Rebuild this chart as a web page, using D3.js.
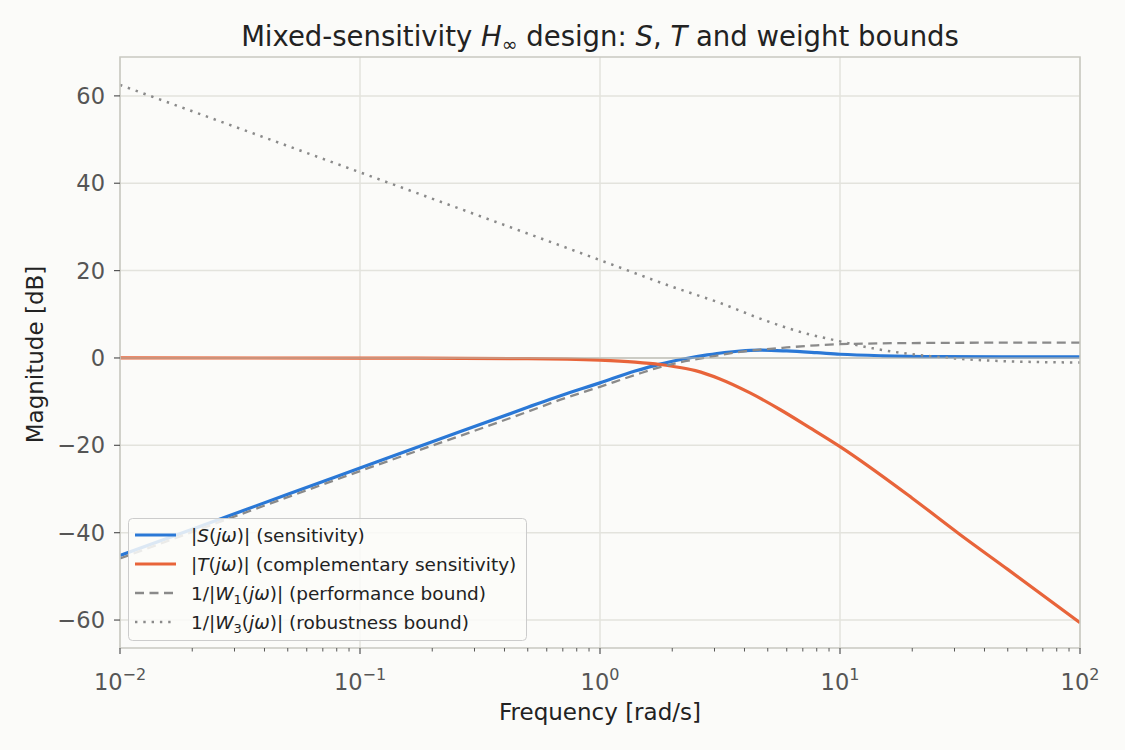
<!DOCTYPE html>
<html>
<head>
<meta charset="utf-8">
<script src="https://cdn.jsdelivr.net/npm/d3@7"></script>
<style>
  html, body { margin: 0; padding: 0; background: #fbfbf9; }
  svg { display: block; font-family: "DejaVu Sans", sans-serif; }
</style>
</head>
<body>
<svg id="chart" width="1125" height="750"></svg>
<script>
// ---- data ----
const sFreq  = [0.01, 0.02, 0.05, 0.1, 0.2, 0.5, 0.68, 1, 1.4, 1.78, 2.2, 2.8, 3.3, 3.83, 4.64, 6, 8, 10, 15, 26, 50, 100];
const sMag   = [-45.2, -39.2, -31.2, -25.2, -19.2, -11.3, -8.7, -5.7, -3.0, -1.4, -0.3, 0.7, 1.25, 1.6, 1.8, 1.6, 1.2, 0.85, 0.5, 0.3, 0.25, 0.25];
const tFreq  = [0.01, 0.1, 0.5, 1, 1.4, 1.78, 2, 2.5, 3.16, 4.22, 5.62, 7.5, 10, 20, 31.6, 50, 100];
const tMag   = [0.0, -0.02, -0.15, -0.5, -0.95, -1.5, -1.9, -2.9, -4.8, -8.0, -11.8, -16.0, -20.3, -32.1, -40.4, -48.4, -60.6];
const w1Freq = [0.01, 0.1, 0.5, 0.68, 1, 1.4, 1.78, 2, 2.87, 3.83, 4.64, 6, 8, 10, 15, 26, 50, 100];
const w1Mag  = [-45.9, -25.9, -12.3, -9.6, -6.6, -3.9, -2.1, -1.4, 0.25, 1.4, 1.9, 2.4, 2.9, 3.15, 3.35, 3.45, 3.5, 3.5];
const w3Freq = [0.01, 0.1, 1, 2, 3.16, 4.87, 7, 10, 13.7, 19, 24, 30, 46, 70, 100];
const w3Mag  = [62.5, 42.5, 22.4, 16.3, 12.6, 8.6, 5.8, 3.8, 2.2, 1.0, 0.4, -0.1, -0.7, -0.95, -1.05];
const yTicks = [-60, -40, -20, 0, 20, 40, 60];
const xTickExps = [-2, -1, 0, 1, 2];
const seriesNames = ["S", "T", "W1", "W3"];

// ---- layout ----
const svg = d3.select("#chart");
const L = 120, R = 1080, T = 57, B = 648;
const x = d3.scaleLog().domain([0.01, 100]).range([L, R]);
const y = d3.scaleLinear().domain([-66.4, 68.9]).range([B, T]);

svg.append("rect").attr("width", 1125).attr("height", 750).attr("fill", "#fbfbf9");

const gridColor = "#e3e3dd";
svg.append("g").selectAll("line").data(xTickExps).join("line")
  .attr("x1", d => x(Math.pow(10, d))).attr("x2", d => x(Math.pow(10, d)))
  .attr("y1", T).attr("y2", B).attr("stroke", gridColor).attr("stroke-width", 1.5);
svg.append("g").selectAll("line").data(yTicks).join("line")
  .attr("x1", L).attr("x2", R).attr("y1", d => y(d)).attr("y2", d => y(d))
  .attr("stroke", gridColor).attr("stroke-width", 1.5);

svg.append("clipPath").attr("id", "clip").append("rect")
  .attr("x", L).attr("y", T).attr("width", R - L).attr("height", B - T);

const line = d3.line().x(d => x(d[0])).y(d => y(d[1])).curve(d3.curveMonotoneX);
const zip = (f, m) => f.map((v, i) => [v, m[i]]);
const plot = svg.append("g").attr("clip-path", "url(#clip)");

const styles = {
  S:  {data: zip(sFreq, sMag),  color: "#2a78d6", w: 3.2, dash: null},
  T:  {data: zip(tFreq, tMag),  color: "#e8643a", w: 3.2, dash: null},
  W1: {data: zip(w1Freq, w1Mag), color: "#8a8a8a", w: 2.3, dash: "9,5.5"},
  W3: {data: zip(w3Freq, w3Mag), color: "#8a8a8a", w: 2.5, dash: "2.4,5.9"}
};
seriesNames.forEach(k => {
  const s = styles[k];
  plot.append("path").attr("d", line(s.data)).attr("fill", "none")
    .attr("stroke", s.color).attr("stroke-width", s.w)
    .attr("stroke-dasharray", s.dash);
});
plot.append("line").attr("x1", L).attr("x2", R).attr("y1", y(0)).attr("y2", y(0))
  .attr("stroke", "#b5b5ad").attr("stroke-opacity", 0.75).attr("stroke-width", 1.5);

svg.append("rect").attr("x", L).attr("y", T).attr("width", R - L).attr("height", B - T)
  .attr("fill", "none").attr("stroke", "#c9c9c1").attr("stroke-width", 1.5);

const tickColor = "#555555";
const gy = svg.append("g");
yTicks.forEach(v => {
  gy.append("line").attr("x1", L - 6).attr("x2", L).attr("y1", y(v)).attr("y2", y(v))
    .attr("stroke", tickColor).attr("stroke-width", 1.2);
  gy.append("text").attr("x", L - 15).attr("y", y(v)).attr("dy", "0.36em")
    .attr("text-anchor", "end").attr("fill", tickColor).attr("font-size", 22.5)
    .text(v < 0 ? "\u2212" + Math.abs(v) : String(v));
});

const gx = svg.append("g");
xTickExps.forEach(e => {
  const xv = x(Math.pow(10, e));
  gx.append("line").attr("x1", xv).attr("x2", xv).attr("y1", B).attr("y2", B + 6)
    .attr("stroke", tickColor).attr("stroke-width", 1.2);
  const t = gx.append("text").attr("x", xv).attr("y", B + 42).attr("text-anchor", "middle")
    .attr("fill", tickColor).attr("font-size", 22.5);
  t.append("tspan").text("10");
  t.append("tspan").attr("font-size", 16).attr("dy", -10)
    .text(e < 0 ? "\u2212" + Math.abs(e) : String(e));
  if (e < 2) {
    for (let m = 2; m <= 9; m++) {
      const xm = x(m * Math.pow(10, e));
      gx.append("line").attr("x1", xm).attr("x2", xm).attr("y1", B).attr("y2", B + 3.5)
        .attr("stroke", tickColor).attr("stroke-width", 1);
    }
  }
});

svg.append("text").attr("x", (L + R) / 2).attr("y", 720).attr("text-anchor", "middle")
  .attr("font-size", 23).attr("fill", "#222").text("Frequency [rad/s]");
svg.append("text").attr("transform", `translate(43,${(T + B) / 2 + 2}) rotate(-90)`)
  .attr("text-anchor", "middle").attr("font-size", 23).attr("fill", "#222").text("Magnitude [dB]");

const title = svg.append("text").attr("x", (L + R) / 2).attr("y", 46).attr("text-anchor", "middle")
  .attr("font-size", 27.5).attr("fill", "#222");
title.append("tspan").text("Mixed-sensitivity ");
title.append("tspan").attr("font-style", "italic").text("H");
title.append("tspan").attr("font-size", 19).attr("dy", 5).text("\u221E");
title.append("tspan").attr("dy", -5).text(" design: ");
title.append("tspan").attr("font-style", "italic").text("S");
title.append("tspan").text(", ");
title.append("tspan").attr("font-style", "italic").text("T");
title.append("tspan").text(" and weight bounds");

const lg = svg.append("g");
lg.append("rect").attr("x", 128.5).attr("y", 518.5).attr("width", 398).attr("height", 122)
  .attr("rx", 4).attr("fill", "#fbfbf9").attr("fill-opacity", 0.85)
  .attr("stroke", "#cccccc").attr("stroke-width", 1);
const rowsY = [535, 564, 593, 622];
const fs = 18.5;
seriesNames.forEach((k, i) => {
  const s = styles[k];
  lg.append("line").attr("x1", 135).attr("x2", 176).attr("y1", rowsY[i]).attr("y2", rowsY[i])
    .attr("stroke", s.color).attr("stroke-width", s.w).attr("stroke-dasharray", s.dash);
  const t = lg.append("text").attr("x", 191).attr("y", rowsY[i]).attr("dy", "0.36em")
    .attr("font-size", fs).attr("fill", "#222");
  const it = (txt) => t.append("tspan").attr("font-style", "italic").text(txt);
  const rm = (txt) => t.append("tspan").text(txt);
  if (k === "S" || k === "T") {
    rm("|"); it(k); rm("("); it("j\u03C9"); rm(")| ");
    rm(k === "S" ? "(sensitivity)" : "(complementary sensitivity)");
  } else {
    rm("1/|"); it("W");
    t.append("tspan").attr("font-size", 13).attr("dy", 4).text(k === "W1" ? "1" : "3");
    t.append("tspan").attr("dy", -4).text("(");
    it("j\u03C9"); rm(")| ");
    rm(k === "W1" ? "(performance bound)" : "(robustness bound)");
  }
});
</script>
</body>
</html>
